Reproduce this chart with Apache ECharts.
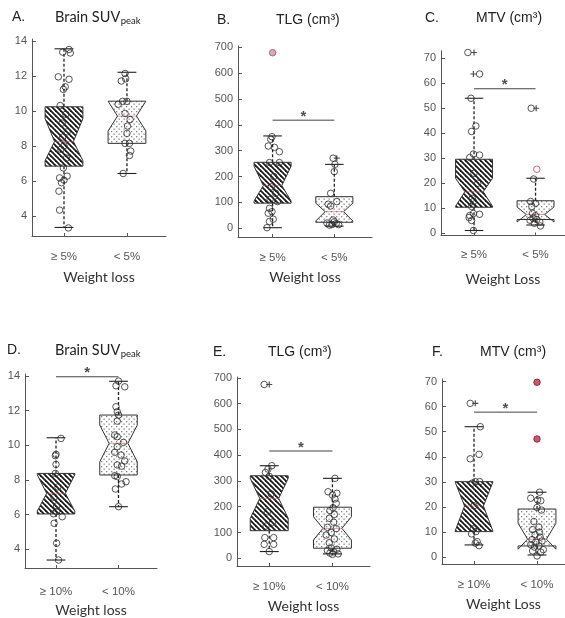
<!DOCTYPE html>
<html><head><meta charset="utf-8">
<script src="https://cdn.jsdelivr.net/npm/echarts@6/dist/echarts.min.js"></script>
<style>html,body{margin:0;padding:0;background:#fff}#chart{width:565px;height:618px}</style>
</head><body><div id="chart"></div>
<script>
// ---- data ----
const groups5 = ['≥ 5%', '< 5%'];
const groups10 = ['≥ 10%', '< 10%'];
const ticksSUV = [4, 6, 8, 10, 12, 14];
const ticksTLG = [0, 100, 200, 300, 400, 500, 600, 700];
const ticksMTV = [0, 10, 20, 30, 40, 50, 60, 70];

// box summaries: [lower whisker, q1, notch low, median, notch high, q3, upper whisker]
const boxA = [[3.34, 6.84, 7.15, 8.25, 9.55, 10.23, 13.54], [6.42, 8.14, 8.85, 9.7, 10.55, 10.55, 12.2]];
const boxB = [[2, 97, 105, 165, 240, 255, 357], [8, 23, 28, 64, 97, 122, 247]];
const boxC = [[1.1, 10.4, 10.8, 16.6, 22, 29.6, 54], [3.3, 5.5, 4.5, 7.5, 10.5, 13, 22]];
const boxD = [[3.38, 6.04, 6.2, 7.23, 8.3, 8.38, 10.44], [6.46, 8.29, 9.05, 10.12, 11.17, 11.75, 13.7]];
const boxE = [[26, 107, 155, 232, 310, 320, 359], [17, 39, 71, 116, 161, 198, 310]];
const boxF = [[4.9, 10.2, 10.4, 20.4, 30, 30.1, 52], [0.9, 4.5, 3.2, 7.2, 13.5, 19.2, 25.9]];

// individual patients: [group position with jitter, value]
const ptsA = [[1.08,13.5],[0.98,13.35],[1.10,13.3],[0.91,11.94],[1.08,11.8],[1.02,11.37],[0.99,11.22],[0.94,10.3],[1.03,9.8],[0.97,9.3],[1.05,8.8],[0.98,8.5],[1.0,8.0],[0.95,7.8],[1.04,7.3],[0.99,6.74],[0.93,6.17],[1.05,6.27],[0.96,5.89],[1.0,6.04],[0.92,5.41],[0.93,4.33],[1.07,3.31],
  [1.97,12.13],[1.91,11.7],[1.98,11.83],[1.93,10.54],[2.0,10.54],[1.86,10.37],[1.97,9.85],[2.05,9.5],[2.01,9.13],[2.0,8.71],[1.97,8.14],[2.04,8.14],[2.06,7.7],[2.04,7.45],[1.94,6.42]];
const ptsB = [[0.99,354],[0.97,344],[0.93,318],[1.03,313],[1.11,296],[0.95,254],[1.11,254],[1.02,200],[0.98,160],[1.05,135],[0.96,112],[1.08,103],[0.95,77],[0.99,64],[0.93,58],[0.95,26],[1.01,35],[0.91,2],
  [1.98,271],[2.01,247],[2.0,219],[1.94,135],[1.9,93],[1.94,86],[2.04,103],[1.98,32],[1.88,20],[1.96,14],[2.03,18],[2.07,14],[2.0,25],[1.92,12]];
const ptsC = [[0.9,72.3],[1.09,63.7],[0.95,54],[1.03,42.9],[0.96,40.7],[0.99,31.7],[1.09,31.3],[0.93,30.3],[1.0,24],[1.06,20],[0.97,14],[0.99,12.7],[0.96,10.7],[1.09,7.6],[0.93,7.1],[0.99,7.9],[0.92,6.3],[0.96,5.1],[0.99,1.1],
  [1.93,50],[1.97,21.7],[1.92,12.7],[2.0,12],[1.94,10.7],[2.0,7],[1.96,6],[2.02,5.5],[2.07,4.5],[1.98,4],[1.91,5.2],[2.08,2.9],[1.95,8]];
const ptsD = [[1.08,10.4],[1.0,9.48],[0.99,9.4],[1.0,8.9],[0.99,8.38],[1.03,7.6],[0.97,7.0],[1.01,6.5],[1.01,6.17],[0.96,6.05],[1.1,5.88],[0.97,5.5],[1.01,4.35],[1.04,3.38],
  [2.0,13.71],[1.96,13.44],[2.1,13.38],[1.96,12.23],[1.98,11.94],[2.0,11.75],[1.98,11.4],[1.94,10.6],[1.98,10.5],[2.08,10.17],[1.98,9.92],[1.94,9.6],[2.04,9.44],[2.1,9.1],[1.98,8.87],[2.05,8.8],[1.94,8.25],[1.98,8.2],[2.12,7.9],[2.05,7.77],[1.95,7.48],[2.0,6.46]];
const ptsE = [[0.92,674],[1.04,359],[0.98,346],[0.94,333],[1.0,318],[1.03,250],[0.97,180],[1.05,140],[0.95,125],[0.93,80],[1.07,80],[0.92,54],[1.07,54],[1.0,26],
  [2.04,310],[1.93,258],[2.07,252],[2.0,245],[2.04,230],[2.06,213],[2.01,196],[1.96,185],[2.03,170],[1.95,155],[2.02,140],[1.92,120],[2.06,115],[1.98,100],[1.9,90],[2.03,75],[1.95,60],[1.98,40],[2.07,35],[1.92,30],[2.02,25],[1.96,20],[2.09,17],[2.0,15]];
const ptsF = [[0.94,61.3],[1.1,52],[0.94,39.2],[1.08,41],[1.02,30.1],[1.09,30.1],[0.97,29.5],[1.0,20.5],[0.99,11.3],[1.03,10.2],[0.96,9.3],[1.05,6.2],[1.02,5.6],[1.08,4.6],
  [2.04,25.9],[1.9,23.5],[2.01,22.8],[2.06,22.5],[2.0,19.8],[2.07,18.8],[1.95,14.2],[2.03,12],[1.93,11],[2.04,10],[1.97,9],[2.05,8],[1.92,7],[2.08,6.5],[1.98,6],[1.9,5],[2.03,4.5],[1.96,4],[2.1,3],[1.93,2.5],[2.06,2],[2.0,0.5]];

// flagged outliers ('+' markers) and highlighted patients
const plusC = [[1.0,72.3],[0.99,63.7],[2.01,50]];
const plusB = [[2.04,271]];
const plusE = [[1.0,674]];
const plusF = [[1.02,61.3]];
const redB = [[1.0,679]];
const redC = [[2.02,25.6]];
const redF = [[2.0,69.7],[2.0,47.1]];

// significance bars (value level of the bar)
const sigB = 418, sigC = 57.8, sigD = 13.96, sigE = 416, sigF = 57.8;

// ---- fills ----
function makeHatch() {
  const s = 5, cv = document.createElement('canvas');
  cv.width = s; cv.height = s;
  const g = cv.getContext('2d');
  g.strokeStyle = '#1a1a1a'; g.lineWidth = 1.8;
  for (const c of [-s, 0, s]) { g.beginPath(); g.moveTo(-1, c - 1); g.lineTo(s + 1, s + c + 1); g.stroke(); }
  return cv;
}
function makeDots() {
  const s = 5, cv = document.createElement('canvas');
  cv.width = s; cv.height = s;
  const g = cv.getContext('2d');
  g.fillStyle = '#fff'; g.fillRect(0, 0, s, s);
  g.fillStyle = '#858585';
  g.fillRect(1, 1, 1.3, 1.3); g.fillRect(3.5, 3.5, 1.3, 1.3);
  return cv;
}
const hatchFill = { image: makeHatch(), repeat: 'repeat' };
const dotFill = { image: makeDots(), repeat: 'repeat' };

const BOX_W = 0.6, CAP_W = 0.3;

function renderBox(params, api) {
  const c = api.value(0);
  const [wLo, q1, nLo, med, nHi, q3, wHi] = [1, 2, 3, 4, 5, 6, 7].map(i => api.value(i));
  const h = BOX_W / 2, ind = h * 0.5, cap = CAP_W / 2;
  const P = (dx, y) => api.coord([c + dx, y]);
  const outline = [P(-h, q1), P(-h, nLo), P(-h + ind, med), P(-h, nHi), P(-h, q3),
                   P(h, q3), P(h, nHi), P(h - ind, med), P(h, nLo), P(h, q1)];
  const ln = (a, b, extra) => ({ type: 'line', shape: { x1: a[0], y1: a[1], x2: b[0], y2: b[1] },
    style: Object.assign({ stroke: '#222', lineWidth: 1.1 }, extra || {}) });
  return {
    type: 'group',
    children: [
      ln(P(0, q3), P(0, wHi), { lineDash: [3, 2], lineWidth: 1.3 }),
      ln(P(0, q1), P(0, wLo), { lineDash: [3, 2], lineWidth: 1.3 }),
      ln(P(-cap, wHi), P(cap, wHi)),
      ln(P(-cap, wLo), P(cap, wLo)),
      { type: 'polygon', shape: { points: outline },
        style: { fill: c < 1.5 ? hatchFill : dotFill, stroke: '#333', lineWidth: 1 } },
      ln(P(-h + ind, med), P(h - ind, med), { stroke: 'rgba(200,80,80,0.55)', lineWidth: 1 })
    ]
  };
}

// ---- panel layout ----
const panels = [
  { box: boxA, pts: ptsA, plus: [], red: [], sig: null, groups: groups5, ticks: ticksSUV, name: 'Weight loss',
    grid: { left: 32, top: 39, width: 134, height: 197 }, x: [0.492, 2.62], y: [2.85, 14.1], margin: 15, gap: 34 },
  { box: boxB, pts: ptsB, plus: plusB, red: redB, sig: sigB, groups: groups5, ticks: ticksTLG, name: 'Weight loss',
    grid: { left: 238, top: 46, width: 134, height: 191 }, x: [0.44, 2.61], y: [-34, 705], margin: 15, gap: 33 },
  { box: boxC, pts: ptsC, plus: plusC, red: redC, sig: sigC, groups: groups5, ticks: ticksMTV, name: 'Weight Loss',
    grid: { left: 441, top: 50.75, width: 124, height: 184.75 }, x: [0.463, 2.479], y: [-0.9, 73], margin: 13, gap: 37 },
  { box: boxD, pts: ptsD, plus: [], red: [], sig: sigD, groups: groups10, ticks: ticksSUV, name: 'Weight loss',
    grid: { left: 25, top: 374, width: 132, height: 194 }, x: [0.504, 2.616], y: [2.92, 14.12], margin: 18, gap: 35 },
  { box: boxE, pts: ptsE, plus: plusE, red: [], sig: sigE, groups: groups10, ticks: ticksTLG, name: 'Weight loss',
    grid: { left: 237, top: 377, width: 133, height: 189 }, x: [0.49, 2.594], y: [-30, 703], margin: 15, gap: 33 },
  { box: boxF, pts: ptsF, plus: plusF, red: redF, sig: sigF, groups: groups10, ticks: ticksMTV, name: 'Weight Loss',
    grid: { left: 442, top: 379, width: 123, height: 185 }, x: [0.492, 2.444], y: [-2.7, 71], margin: 15, gap: 33 }
];
const redStyles = [null,
  { color: '#d6939d', borderColor: '#7d6468' },
  { color: 'rgba(255,255,255,0)', borderColor: '#c8404c' }, null, null,
  { color: '#c22d48', borderColor: '#6e2230' }];

const tickFont = { fontFamily: 'Liberation Sans', fontSize: 11, color: '#555' };
const grids = [], xAxes = [], yAxes = [], series = [];
panels.forEach((p, i) => {
  grids.push(p.grid);
  xAxes.push({
    gridIndex: i, type: 'value', min: p.x[0], max: p.x[1], splitLine: { show: false },
    axisLine: { show: true, onZero: false, lineStyle: { color: '#555', width: 1 } },
    axisTick: { show: true, inside: true, length: 3, customValues: [1, 2], lineStyle: { color: '#555' } },
    axisLabel: { customValues: [1, 2], margin: p.margin, fontSize: 11.5, fontFamily: 'Liberation Sans', color: '#555',
      formatter: v => p.groups[Math.round(v) - 1] },
    name: p.name, nameLocation: 'middle', nameGap: p.gap,
    nameTextStyle: { fontFamily: 'Lato', fontSize: 14, color: '#333' }
  });
  yAxes.push({
    gridIndex: i, type: 'value', min: p.y[0], max: p.y[1], splitLine: { show: false },
    axisLine: { show: true, onZero: false, lineStyle: { color: '#555', width: 1 } },
    axisTick: { show: true, inside: true, length: 4, customValues: p.ticks, lineStyle: { color: '#555' } },
    axisLabel: Object.assign({ customValues: p.ticks, margin: 5 }, tickFont)
  });
  series.push({
    type: 'custom', xAxisIndex: i, yAxisIndex: i, z: 2, renderItem: renderBox,
    encode: { x: 0, y: [1, 2, 3, 4, 5, 6, 7] },
    data: p.box.map((b, k) => [k + 1].concat(b))
  });
  series.push({
    type: 'scatter', xAxisIndex: i, yAxisIndex: i, z: 4, symbol: 'circle', symbolSize: 6.5,
    itemStyle: { color: 'rgba(255,255,255,0)', borderColor: '#2a2a2a', borderWidth: 1 },
    data: p.pts
  });
  if (p.red.length) series.push({
    type: 'scatter', xAxisIndex: i, yAxisIndex: i, z: 4, symbol: 'circle', symbolSize: 6.5,
    itemStyle: Object.assign({ borderWidth: 1 }, redStyles[i]), data: p.red
  });
  if (p.plus.length) series.push({
    type: 'scatter', xAxisIndex: i, yAxisIndex: i, z: 4,
    symbol: 'path://M4,0H6V4H10V6H6V10H4V6H0V4H4Z', symbolSize: 6,
    itemStyle: { color: '#222' }, data: p.plus
  });
  if (p.sig !== null) {
    series.push({
      type: 'line', xAxisIndex: i, yAxisIndex: i, z: 3, symbol: 'none', silent: true,
      lineStyle: { color: '#444', width: 1 }, data: [[1, p.sig], [2, p.sig]]
    });
    series.push({
      type: 'scatter', xAxisIndex: i, yAxisIndex: i, z: 3, symbolSize: 0, silent: true,
      label: { show: true, position: 'top', distance: -4, formatter: '*',
        fontFamily: 'Liberation Sans', fontSize: 15, fontWeight: 'bold', color: '#222' },
      data: [[1.5, p.sig]]
    });
  }
});

// ---- panel titles ----
const measure = (() => { const g = document.createElement('canvas').getContext('2d');
  return (t, f) => { g.font = f; return g.measureText(t).width; }; })();
const titles = [
  { letter: 'A.', lx: 12, main: 'Brain SUV', sub: 'peak', tx: 55, y: 17 },
  { letter: 'B.', lx: 217, main: 'TLG (cm³)', tx: 276, y: 20 },
  { letter: 'C.', lx: 425, main: 'MTV (cm³)', tx: 476, y: 18 },
  { letter: 'D.', lx: 7, main: 'Brain SUV', sub: 'peak', tx: 55, y: 350 },
  { letter: 'E.', lx: 213, main: 'TLG (cm³)', tx: 268, y: 352 },
  { letter: 'F.', lx: 432, main: 'MTV (cm³)', tx: 480, y: 352 }
];
const graphic = [];
titles.forEach(t => {
  graphic.push({ type: 'text', x: t.lx, y: t.y, style: { text: t.letter, font: '14px "Liberation Sans"', fill: '#222', verticalAlign: 'middle' } });
  const mainFont = t.sub ? '14.5px Lato' : '14px "Liberation Sans"';
  graphic.push({ type: 'text', x: t.tx, y: t.y, style: { text: t.main, font: mainFont, fill: '#222', verticalAlign: 'middle' } });
  if (t.sub) {
    graphic.push({ type: 'text', x: t.tx + measure(t.main, mainFont) + 0.5, y: t.y + 4,
      style: { text: t.sub, font: '9.5px Lato', fill: '#222', verticalAlign: 'middle' } });
  }
});

const chart = echarts.init(document.getElementById('chart'), null, { renderer: 'canvas' });
chart.setOption({
  animation: false,
  backgroundColor: '#fff',
  grid: grids, xAxis: xAxes, yAxis: yAxes, series: series, graphic: graphic
});
</script></body></html>
